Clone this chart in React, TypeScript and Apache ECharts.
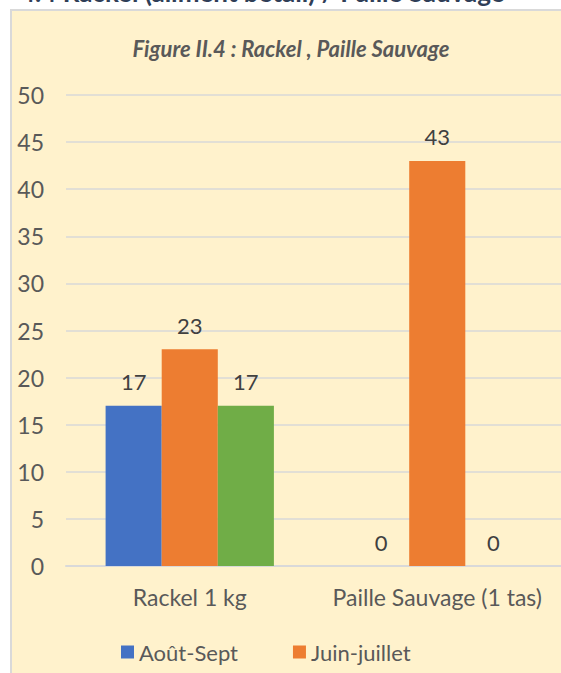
import React, { useEffect, useRef } from "react";
import * as echarts from "echarts";

const categories = ["Rackel 1 kg", "Paille Sauvage (1 tas)"];
const seriesNames = ["Août-Sept", "Juin-juillet", "Autre période"];
const aoutSept = [17, 0];
const juinJuillet = [23, 43];
const autre = [17, 0];
const yTicks = [0, 5, 10, 15, 20, 25, 30, 35, 40, 45, 50];
const heading = "4.4 Rackel (aliment bétail) / Paille Sauvage";
const chartTitle = "Figure II.4 : Rackel , Paille Sauvage";

const FONT = "Lato, 'Open Sans', sans-serif";

export default function App() {
  const ref = useRef<HTMLDivElement>(null);
  useEffect(() => {
    if (!ref.current) return;
    const chart = echarts.init(ref.current, null, { renderer: "svg" });
    const labelCfg = {
      show: true,
      position: "top",
      distance: 13,
      fontFamily: FONT,
      fontSize: 22,
      color: "#404040",
    };
    chart.setOption({
      animation: false,
      backgroundColor: "#ffffff",
      textStyle: { fontFamily: FONT },
      graphic: [
        {
          type: "rect",
          z: -10,
          shape: { x: 11, y: 10, width: 620, height: 720 },
          style: { fill: "#FFF2CC", stroke: "#D9D9D9", lineWidth: 2 },
        },
        {
          type: "text",
          left: 20,
          top: -21,
          style: {
            text: heading,
            fontFamily: FONT,
            fontSize: 26,
            fontWeight: "bold",
            fill: "#2F3E57",
          },
        },
      ],
      title: {
        text: chartTitle,
        left: 286,
        textAlign: "center",
        top: 32,
        textStyle: {
          fontFamily: FONT,
          fontSize: 22,
          fontStyle: "italic",
          fontWeight: "bold",
          color: "#595959",
        },
      },
      legend: {
        data: [seriesNames[0], seriesNames[1]],
        left: 116,
        top: 636,
        icon: "rect",
        itemWidth: 13,
        itemHeight: 13,
        itemGap: 55,
        textStyle: { fontFamily: FONT, fontSize: 22, color: "#595959" },
      },
      grid: { left: 66, top: 95, width: 504, height: 471, containLabel: false },
      xAxis: {
        type: "category",
        data: categories,
        axisLine: { lineStyle: { color: "#D9D9D9", width: 2 } },
        axisTick: { show: false },
        axisLabel: {
          interval: 0,
          hideOverlap: false,
          fontFamily: FONT,
          fontSize: 23,
          color: "#595959",
          margin: 19,
        },
      },
      yAxis: {
        type: "value",
        min: yTicks[0],
        max: yTicks[yTicks.length - 1],
        interval: 5,
        axisLine: { show: false },
        axisTick: { show: false },
        splitLine: { lineStyle: { color: "#D9D9D9", width: 1.5 } },
        axisLabel: {
          fontFamily: FONT,
          fontSize: 23,
          color: "#595959",
          margin: 22,
        },
      },
      series: [
        {
          name: seriesNames[0],
          type: "bar",
          data: aoutSept,
          itemStyle: { color: "#4472C4" },
          barGap: "0%",
          barCategoryGap: "32%",
          label: labelCfg,
        },
        {
          name: seriesNames[1],
          type: "bar",
          data: juinJuillet,
          itemStyle: { color: "#ED7D31" },
          barGap: "0%",
          barCategoryGap: "32%",
          label: labelCfg,
        },
        {
          name: seriesNames[2],
          type: "bar",
          data: autre,
          itemStyle: { color: "#70AD47" },
          barGap: "0%",
          barCategoryGap: "32%",
          label: labelCfg,
        },
      ],
    });
    return () => chart.dispose();
  }, []);
  return (
    <div
      ref={ref}
      style={{ position: "fixed", left: 0, top: 0, width: 561, height: 673 }}
    />
  );
}
